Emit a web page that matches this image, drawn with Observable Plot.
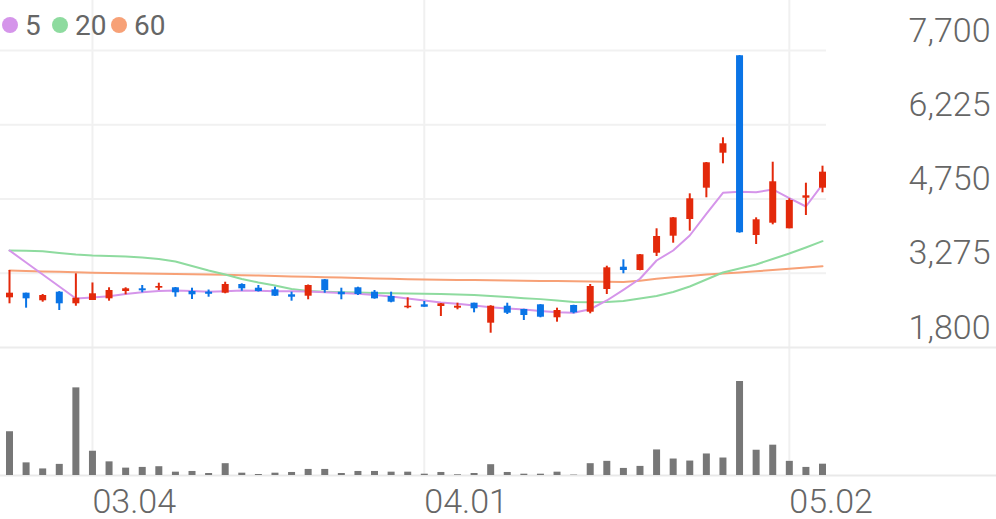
<!DOCTYPE html>
<html><head><meta charset="utf-8">
<script src="https://cdn.jsdelivr.net/npm/d3@7"></script>
<script src="https://cdn.jsdelivr.net/npm/@observablehq/plot@0.6"></script>
<style>
html,body{margin:0;padding:0;background:#fff;}
#wrap{position:relative;width:996px;height:519px;overflow:hidden;font-family:Roboto,"Noto Sans",sans-serif;background:#fff;}
#wrap svg{position:absolute;left:0;top:0;}
</style></head><body><div id="wrap"></div>
<script>
const dates = ["02.22","02.25","02.26","02.27","02.28","03.04","03.05","03.06","03.07","03.08","03.11","03.12","03.13","03.14","03.15","03.18","03.19","03.20","03.21","03.22","03.25","03.26","03.27","03.28","03.29","04.01","04.02","04.03","04.04","04.05","04.08","04.09","04.10","04.11","04.12","04.15","04.16","04.17","04.18","04.19","04.22","04.23","04.24","04.25","04.26","04.29","04.30","05.02","05.03","05.07"];
const open  = [2787,2879,2728,2899,2668,2734,2767,2912,2966,2978,2986,2912,2900,2879,3052,2978,2946,2847,2819,3145,2899,2986,2899,2813,2589,2648,2614,2581,2680,2283,2620,2555,2648,2390,2634,2501,2952,3395,3330,3673,4011,4343,4965,5660,7595,4025,4269,4158,4766,4965];
const high  = [3330,2879,2853,2910,3264,3082,2986,2986,3032,3077,2992,2978,2942,3097,3065,3032,2998,2899,3042,3151,2978,2998,2932,2899,2787,2714,2674,2680,2680,2630,2680,2560,2652,2581,2640,3052,3415,3542,3647,4158,4382,4853,5475,5966,7600,4376,5481,4754,5064,5402];
const low   = [2668,2581,2700,2535,2620,2734,2720,2847,2887,2932,2799,2754,2799,2867,2918,2902,2813,2720,2748,2879,2748,2833,2760,2688,2569,2600,2416,2549,2489,2084,2456,2336,2390,2303,2469,2469,2853,3264,3324,3608,3872,4111,4774,5449,4070,3846,4237,4158,4422,4873];
const close = [2879,2767,2833,2668,2779,2867,2932,2966,2926,3012,2887,2847,2857,3052,2966,2912,2819,2799,3032,2932,2847,2853,2767,2700,2620,2600,2668,2620,2569,2620,2481,2436,2402,2535,2489,3012,3383,3330,3642,4005,4376,4754,5469,5847,4080,4337,5092,4720,4813,5283];
const volume = [4330,1250,650,1100,8670,2400,1350,730,800,870,330,400,200,1170,230,100,230,300,600,600,200,400,400,330,330,130,300,70,200,1070,300,130,130,330,40,1170,1400,700,900,2530,1630,1430,2130,1730,9300,2500,3000,1400,800,1120];
const ma5  = [3727,3489,3250,3012,2773,2793,2819,2863,2899,2922,2932,2922,2909,2918,2932,2928,2918,2916,2912,2899,2883,2867,2843,2813,2773,2734,2694,2668,2634,2601,2575,2555,2525,2501,2489,2560,2734,2946,3165,3528,3727,4025,4456,4873,4893,4885,4939,4766,4601,5039];
const ma20 = [3727,3721,3713,3677,3647,3628,3618,3608,3588,3558,3508,3419,3330,3250,3161,3091,3032,2962,2922,2906,2897,2893,2885,2877,2873,2867,2861,2853,2843,2823,2803,2780,2761,2734,2704,2700,2704,2724,2773,2823,2903,3012,3151,3290,3369,3449,3558,3667,3787,3912];
const ma60 = [3330,3320,3312,3304,3294,3284,3278,3274,3270,3264,3258,3254,3248,3244,3236,3228,3220,3212,3204,3196,3189,3181,3173,3165,3157,3151,3147,3143,3139,3135,3131,3127,3123,3119,3115,3111,3105,3101,3125,3167,3195,3222,3248,3272,3290,3314,3340,3363,3387,3415];
const priceTicks = [1800,3275,4750,6225,7700];
const dateTicks = ["03.04","04.01","05.02"];
const maSeries = [{name:"5", values:ma5, color:"#d595ea"},{name:"20", values:ma20, color:"#8edb9f"},{name:"60", values:ma60, color:"#f7a177"}];

const UP = "#e3290b", DOWN = "#0a74e6";
const rows = dates.map((d,i)=>({i, date:d, open:open[i], high:high[i], low:low[i], close:close[i], volume:volume[i], ma5:ma5[i], ma20:ma20[i], ma60:ma60[i]}));
const col = d => d.close >= d.open ? UP : DOWN;
const xScale = {type:"linear", domain:[0, dates.length-1], range:[9,822], axis:null};
const font = {fontFamily:"Roboto, 'Noto Sans', sans-serif"};

const volPlot = Plot.plot({
  width:996, height:519, marginTop:0, marginLeft:0, marginRight:0, marginBottom:44,
  style:{background:"#fff", ...font},
  x:xScale,
  y:{type:"linear", domain:[0, d3.max(volume)], range:[475, 381], axis:null},
  marks:[
    Plot.ruleX(dateTicks, {x:d=>dates.indexOf(d), stroke:"#f0f0f0", strokeWidth:2}),
    Plot.ruleY([0], {stroke:"#e9e9e9", strokeWidth:2}),
    Plot.ruleX(rows, {x:"i", y1:0, y2:"volume", stroke:"#777777", strokeWidth:7})
  ]
});

const pricePlot = Plot.plot({
  width:996, height:519, marginTop:0, marginLeft:0, marginRight:0, marginBottom:44,
  style:{background:"transparent", overflow:"visible", ...font},
  x:xScale,
  y:{type:"linear", domain:[priceTicks[0], priceTicks[priceTicks.length-1]], range:[347,50], axis:null},
  marks:[
    Plot.ruleY(priceTicks.slice(1), {x1:-1, x2:dates.length-0.76, stroke:"#f1f1f1", strokeWidth:2}),
    Plot.ruleY([priceTicks[0]], {stroke:"#ececec", strokeWidth:2}),
    Plot.text(priceTicks, {y:d=>d, frameAnchor:"right", textAnchor:"end", lineAnchor:"bottom", dx:-6, dy:-9, text:d=>d3.format(",")(d), fontSize:34, fontWeight:300, fill:"#666"}),
    Plot.text(dateTicks, {x:d=>dates.indexOf(d), frameAnchor:"bottom", textAnchor:"start", lineAnchor:"bottom", dx:0, dy:37, text:d=>d, fontSize:34, fontWeight:300, fill:"#666"}),
    Plot.line(rows, {x:"i", y:"ma60", stroke:maSeries[2].color, strokeWidth:2}),
    Plot.line(rows, {x:"i", y:"ma20", stroke:maSeries[1].color, strokeWidth:2}),
    Plot.line(rows, {x:"i", y:"ma5", stroke:maSeries[0].color, strokeWidth:2}),
    Plot.ruleX(rows, {x:"i", y1:"low", y2:"high", stroke:col, strokeWidth:2}),
    Plot.ruleX(rows, {x:"i", y1:"open", y2:"close", stroke:col, strokeWidth:7})
  ]
});

const wrap = document.getElementById("wrap");
wrap.appendChild(volPlot);
wrap.appendChild(pricePlot);

// legend
const lx = [10, 60, 119];
const leg = d3.create("svg").attr("width", 200).attr("height", 50).style("overflow","visible");
maSeries.forEach((s,k)=>{
  leg.append("circle").attr("cx", lx[k]).attr("cy", 25).attr("r", 8).attr("fill", s.color);
  leg.append("text").attr("x", lx[k]+15).attr("y", 35).attr("font-size", 28)
     .attr("font-family","Roboto, 'Noto Sans', sans-serif").attr("fill","#666").text(s.name);
});
wrap.appendChild(leg.node());
</script>
</body></html>
